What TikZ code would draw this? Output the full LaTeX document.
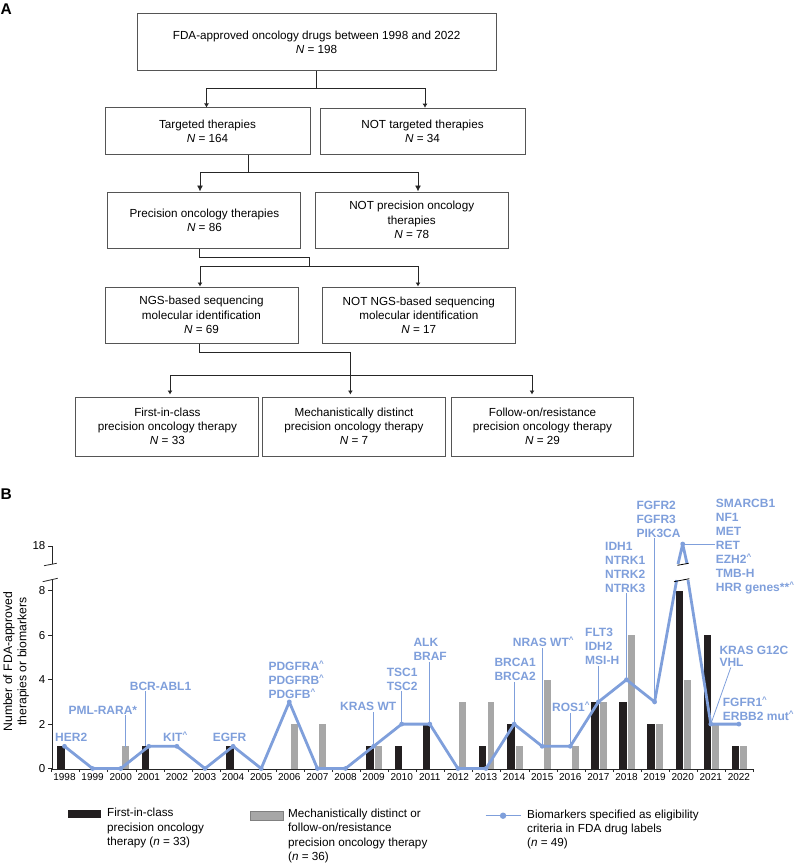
\documentclass[tikz,border=0pt]{standalone}
\usepackage{fontspec}
\setmainfont{Liberation Sans}
\usepackage{xcolor}
\usepackage{tikz}
\usetikzlibrary{calc}
\usetikzlibrary{arrows}
\usetikzlibrary{arrows.meta}
\usetikzlibrary{shapes}
\usetikzlibrary{positioning}
\tikzset{>=latex}
\definecolor{markerblue}{HTML}{7F9FDB}
\definecolor{barblack}{HTML}{231F20}
\definecolor{bargrey}{HTML}{A7A7A7}
\definecolor{edgegrey}{HTML}{555555}
\newcommand{\crt}{\textsuperscript{\textasciicircum}}
\tikzstyle{box} = [rectangle, draw=edgegrey, line width=1pt, align=center, inner sep=0pt, font=\fontsize{11.7}{14.2}\selectfont]
\tikzstyle{flow} = [-{Latex[length=4pt,width=5pt]}, draw=black!85, line width=.9pt]
\tikzstyle{flowbig} = [-{Latex[length=6pt,width=6pt]}, draw=black!85, line width=.9pt]
\tikzstyle{plain} = [-, draw=black!85, line width=.9pt]
\tikzstyle{marker} = [anchor=west, align=left, inner sep=1pt, text=markerblue, font=\fontsize{12}{14}\selectfont\bfseries]
\tikzstyle{leader} = [-, draw=markerblue, line width=.8pt]
\tikzstyle{trend} = [-, draw=markerblue, line width=2.8pt, line join=round]
\tikzstyle{legendtext} = [anchor=west, align=left, inner sep=0pt, font=\fontsize{11.7}{14.2}\selectfont]
\tikzstyle{axislabel} = [inner sep=0pt, font=\fontsize{10}{12}\selectfont]
\tikzstyle{ticklabel} = [anchor=east, inner sep=0pt, font=\fontsize{11.5}{13}\selectfont]
\begin{document}
\begin{tikzpicture}[x=1pt, y=-1pt]
\useasboundingbox (0,0) rectangle (793,864);
\node [anchor=west, inner sep=0pt, font=\fontsize{15.5}{18}\selectfont\bfseries] (panelA) at (0.5,9) {A};
\node [anchor=west, inner sep=0pt, font=\fontsize{15.5}{18}\selectfont\bfseries] (panelB) at (0.5,494) {B};

\node [box, minimum width=359pt, minimum height=57pt] (top) at (316.6,42.5) {FDA-approved oncology drugs between 1998 and 2022\\\textit{N} = 198};
\node [box, minimum width=205pt, minimum height=46pt] (targeted) at (207.5,131) {Targeted therapies\\\textit{N} = 164};
\node [box, minimum width=205pt, minimum height=46pt] (nottargeted) at (422.5,131.7) {NOT targeted therapies\\\textit{N} = 34};
\node [box, minimum width=193pt, minimum height=56pt] (precision) at (204.4,220) {Precision oncology therapies\\\textit{N} = 86};
\node [box, minimum width=193pt, minimum height=56pt] (notprecision) at (411.7,220) {NOT precision oncology\\therapies\\\textit{N} = 78};
\node [box, minimum width=193pt, minimum height=56pt] (ngs) at (201.5,315) {NGS-based sequencing\\molecular identification\\\textit{N} = 69};
\node [box, minimum width=193pt, minimum height=56pt] (notngs) at (418.8,315) {NOT NGS-based sequencing\\molecular identification\\\textit{N} = 17};
\node [box, minimum width=183pt, minimum height=59pt] (first) at (167.4,426.5) {First-in-class\\precision oncology therapy\\\textit{N} = 33};
\node [box, minimum width=183pt, minimum height=59pt] (mech) at (354,426.5) {Mechanistically distinct\\precision oncology therapy\\\textit{N} = 7};
\node [box, minimum width=182pt, minimum height=59pt] (follow) at (542.5,426.5) {Follow-on/resistance\\precision oncology therapy\\\textit{N} = 29};

\draw [plain] (top.south) -- ++(0,17) coordinate (jna);
\draw [flow] (jna) -| ($(targeted.north)+(-1,0)$);
\draw [flow] (jna) -| ($(nottargeted.north)+(2.5,-.5)$);
\draw [plain] ($(targeted.south)+(41,0)$) -- ++(0,18) coordinate (jnb);
\draw [flowbig] (jnb) -| ($(precision.north)+(-4.4,0)$);
\draw [flowbig] (jnb) -| ($(notprecision.north)+(6.3,0)$);
\draw [plain] ($(precision.south)+(-4.8,0)$) -- ++(0,9) -- ++(110,0) -- ++(0,9) coordinate (jnc);
\draw [flow] (jnc) -| ($(ngs.north)+(-1.5,0)$);
\draw [flow] (jnc) -| ($(notngs.north)+(-.8,0)$);
\draw [plain] ($(ngs.south)+(-2.3,0)$) -- ++(0,9) -| ($(mech.north)+(-3.6,-21)$) coordinate (jnd);
\draw [flow] (jnd) -- ($(mech.north)+(-3.6,-2)$);
\draw [flow] (jnd) -| ($(first.north)+(2.6,-2)$);
\draw [flow] (jnd) -| ($(follow.north)+(-10.5,-2)$);

\foreach \yr/\val in {1998/1,1999/0,2000/0,2001/1,2002/1,2003/0,2004/1,2005/0,2006/3,2007/0,2008/0,2009/1,2010/2,2011/2,2012/0,2013/0,2014/2,2015/1,2016/1,2017/3,2018/4,2019/3,2021/2,2022/2}
  \coordinate (p\yr) at ({64.5+28.1*(\yr-1998)},{768.5-22.2*\val});
\coordinate (p2020) at (682.7,544);
\coordinate (brkA) at (676.7,580);
\coordinate (brkB) at (688,580);
\coordinate (brkC) at (678,564);
\coordinate (brkD) at (687,563.5);

\foreach \yr/\val in {1998/1,2001/1,2004/1,2009/1,2010/1,2011/2,2013/1,2014/2,2017/3,2018/3,2019/2,2020/8,2021/6,2022/1}
  \fill [barblack] ({64.5+28.1*(\yr-1998)-7.2},768.5) rectangle ({64.5+28.1*(\yr-1998)+.4},{768.5-22.2*\val});
\foreach \yr/\val in {2000/1,2006/2,2007/2,2009/1,2012/3,2013/3,2014/1,2015/4,2016/1,2017/3,2018/6,2019/2,2020/4,2021/2,2022/1}
  \fill [bargrey] ({64.5+28.1*(\yr-1998)+1.5},768.5) rectangle ({64.5+28.1*(\yr-1998)+8.4},{768.5-22.2*\val});

\draw [draw=black!85, line width=1pt] (52,579) -- (52,769) -- (753.5,769);
\draw [draw=black!85, line width=1pt] (48,546) -- (52,546) -- (52,564);
\draw [draw=black!85, line width=.8pt] (44,565.7) -- (56.7,563.3);
\draw [draw=black!85, line width=.8pt] (42.7,581.7) -- (57.7,578.3);
\node [ticklabel] (ylabel18) at (45.5,546) {18};
\foreach \val in {0,2,4,6,8} {
  \draw [draw=black!85, line width=1pt] (48,{768.5-22.2*\val}) -- (52,{768.5-22.2*\val});
  \node [ticklabel] (ylabel\val) at (45.5,{768.5-22.2*\val}) {\val};
}
\foreach \yr in {1998,...,2022} {
  \node [axislabel] (xlabel\yr) at ({64.5+28.1*(\yr-1998)},777) {\yr};
}
\foreach \k in {0,...,25}
  \draw [draw=black!85, line width=.9pt] ({51.8+28.07*\k},769) -- ({51.8+28.07*\k},772);
\node [rotate=90, align=center, inner sep=0pt, font=\fontsize{12.2}{14.3}\selectfont] (ytitle) at (16,661.7) {Number of FDA-approved\\therapies or biomarkers};

\draw [trend] (p1998) -- (p1999) -- (p2000) -- (p2001) -- (p2002) -- (p2003) -- (p2004) -- (p2005) -- (p2006) -- (p2007) -- (p2008) -- (p2009) -- (p2010) -- (p2011) -- (p2012) -- (p2013) -- (p2014) -- (p2015) -- (p2016) -- (p2017) -- (p2018) -- (p2019) -- (brkA);
\draw [trend] (brkC) -- (p2020) -- (brkD);
\draw [trend] (brkB) -- (p2021) -- (p2022);
\foreach \yr in {1998,...,2022}
  \fill [markerblue] (p\yr) circle (2.4pt);
\draw [draw=black, line width=.8pt] (677.3,565.3) -- (688.7,563.3);
\draw [draw=black, line width=.8pt] (674,581.7) -- (689.3,578.7);

\node [marker] (her) at (54,737.7) {HER2};
\node [marker] (pml) at (67.3,710) {PML-RARA*};
\node [marker] (bcr) at (128.7,686) {BCR-ABL1};
\node [marker] (kit) at (162,737) {KIT\crt};
\node [marker] (egfr) at (211.7,737) {EGFR};
\node [marker] (pdgf) at (267.3,680) {PDGFRA\crt\\PDGFRB\crt\\PDGFB\crt};
\node [marker] (kras) at (339,706.7) {KRAS WT};
\node [marker] (tsc) at (385.7,679) {TSC1\\TSC2};
\node [marker] (alk) at (412.3,649.3) {ALK\\BRAF};
\node [marker] (brca) at (493.3,669.3) {BRCA1\\BRCA2};
\node [marker] (nras) at (511.7,641.7) {NRAS WT\crt};
\node [marker] (ros) at (551,706.7) {ROS1\crt};
\node [marker] (flt) at (584,646.3) {FLT3\\IDH2\\MSI-H};
\node [marker] (ntrk) at (604,567) {IDH1\\NTRK1\\NTRK2\\NTRK3};
\node [marker] (fgfr) at (635.3,519) {FGFR2\\FGFR3\\PIK3CA};
\node [marker] (smarc) at (714.7,547) {SMARCB1\\NF1\\MET\\RET\\EZH2\crt\\TMB-H\\HRR genes**\crt};
\node [marker, font=\fontsize{12}{12}\selectfont\bfseries] (krasg) at (718.3,656) {KRAS G12C\\VHL};
\node [marker] (fgfra) at (721.7,708.5) {FGFR1\crt\\ERBB2 mut\crt};

\coordinate (pmlend) at (125.7,746.7);
\coordinate (bcrend) at (145,745.7);
\draw [leader] (pml.south -| pmlend) -- (pmlend);
\draw [leader] (bcr.south -| bcrend) -- (bcrend);
\draw [leader] (kras.south -| p2009) -- (p2009);
\draw [leader] (tsc.south -| p2010) -- (p2010);
\draw [leader] (alk.south -| p2011) -- (p2011);
\draw [leader] (brca.south -| p2014) -- (p2014);
\draw [leader] (nras.south -| p2015) -- (p2015);
\draw [leader] (ros.south -| p2016) -- (p2016);
\draw [leader] (flt.south -| p2017) -- (p2017);
\draw [leader] (ntrk.south -| p2018) -- (p2018);
\draw [leader] (fgfr.south -| p2019) -- (p2019);
\draw [leader] (p2020) -- (p2020 -| smarc.west);
\draw [leader] (p2021) -- ($(krasg.south west)+(12.5,0)$);

\fill [barblack] (68,809.5) rectangle (101,818);
\node [legendtext] (legfirst) at (107,828) {First-in-class\\precision oncology\\therapy (\textit{n} = 33)};
\fill [bargrey, draw=black!50, line width=.4pt] (250,811) rectangle (283,820.5);
\node [legendtext] (legmech) at (288,836) {Mechanistically distinct or\\follow-on/resistance\\precision oncology therapy\\(\textit{n} = 36)};
\coordinate (legA) at (485.6,815.7);
\coordinate (legB) at (520.5,815.7);
\draw [leader, line width=1.4pt] (legA) -- (legB);
\fill [markerblue] ($(legA)!.5!(legB)$) circle (3.2pt);
\node [legendtext] (legbio) at (527,829.5) {Biomarkers specified as eligibility\\criteria in FDA drug labels\\(\textit{n} = 49)};
\end{tikzpicture}
\end{document}
